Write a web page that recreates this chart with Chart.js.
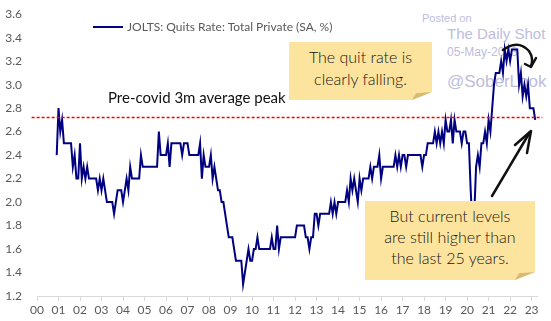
<!DOCTYPE html>
<html>
<head>
<meta charset="utf-8">
<script src="https://cdn.jsdelivr.net/npm/chart.js"></script>
<style>
  html, body { margin: 0; padding: 0; background: #fff; }
  #wrap { position: relative; width: 551px; height: 321px; overflow: hidden; }
  #chart { position: absolute; left: 0; top: 0; z-index: 1; }
  .wm { position: absolute; z-index: 0; color: #bdbddd; font-family: "Liberation Sans", Arial, sans-serif; white-space: nowrap; }
  .over { position: absolute; z-index: 2; white-space: nowrap; }
  .note { background: #fde49e; text-align: center; color: #151515; font-family: Lato, sans-serif; font-weight: 300;
          clip-path: polygon(0 0, 100% 0, 100% calc(100% - 8px), calc(100% - 20px) 100%, 0 100%); }
  .fold { background: #d8ba72; clip-path: polygon(0 100%, 100% 0, 20% 15%); }
</style>
</head>
<body>
<div id="wrap">
  <!-- watermark, sits behind the line -->
  <div class="wm" style="left:422px; top:12px; font-size:11px;">Posted on</div>
  <div class="wm" style="left:447px; top:25px; font-size:15px;">The Daily Shot</div>
  <div class="wm" style="left:447px; top:45px; font-size:12px;">05-May-2023</div>
  <div class="wm" style="left:447px; top:72px; font-size:17px;">@SoberLook</div>

  <canvas id="chart" width="551" height="321"></canvas>

  <!-- legend -->
  <div class="over" style="left:93px; top:26px; width:30px; height:2px; background:#000080;"></div>
  <div class="over" style="left:127px; top:19px; font:12px/16px Lato, sans-serif; color:#595959;">JOLTS: Quits Rate: Total Private (SA, %)</div>

  <div class="over" style="left:108px; top:87px; font:15px/20px Lato, sans-serif; color:#111;">Pre-covid 3m average peak</div>

  <div class="over note" style="left:289px; top:42px; width:143px; height:58px; font-size:16px; line-height:22px; padding-top:4px; box-sizing:border-box;">The quit rate is<br>clearly falling.</div>
  <div class="over fold" style="left:412px; top:92px; width:20px; height:8px;"></div>

  <div class="over note" style="left:365px; top:201px; width:170px; height:79px; font-size:16px; line-height:21px; padding-top:4px; box-sizing:border-box;">But current levels<br>are still higher than<br>the last 25 years.</div>
  <div class="over fold" style="left:515px; top:272px; width:20px; height:8px;"></div>

  <!-- hand drawn arrows -->
  <svg class="over" style="left:0; top:0;" width="551" height="321">
    <g fill="none" stroke="#111" stroke-width="2.5" stroke-linecap="round" stroke-linejoin="round">
      <path d="M 503 50 Q 518 39 529 51 Q 534 58 531 66"/>
      <path d="M 525 64 L 531 67 L 536 58"/>
      <path d="M 492 196 L 530 132"/>
      <path d="M 515 145 L 531 131 L 527 153"/>
    </g>
  </svg>
</div>

<script>
// подписи по оси X (годы)
var tickLabels = ['00','01','02','03','04','05','06','07','08','09','10','11',
                  '12','13','14','15','16','17','18','19','20','21','22','23'];

// первая точка ряда - декабрь 2000 (месяцев от янв 2000)
var firstMonth = 11;

// JOLTS quits rate, total private, SA, % - помесячно с дек 2000 по мар 2023
var quitsRate = [
  2.4,
  2.8, 2.6, 2.7, 2.5, 2.5, 2.5, 2.5, 2.5, 2.3, 2.4, 2.2, 2.2, // 2001
  2.5, 2.2, 2.3, 2.2, 2.3, 2.2, 2.2, 2.2, 2.2, 2.2, 2.1, 2.2, // 2002
  2.1, 2.2, 2.1, 2.0, 2.0, 2.0, 2.0, 1.9, 2.0, 2.1, 2.1, 2.1, // 2003
  2.0, 2.1, 2.2, 2.1, 2.3, 2.2, 2.2, 2.2, 2.2, 2.2, 2.4, 2.3, // 2004
  2.3, 2.3, 2.3, 2.3, 2.3, 2.3, 2.3, 2.3, 2.6, 2.4, 2.4, 2.4, // 2005
  2.4, 2.5, 2.3, 2.5, 2.5, 2.5, 2.5, 2.5, 2.5, 2.4, 2.5, 2.5, // 2006
  2.5, 2.4, 2.4, 2.4, 2.4, 2.4, 2.4, 2.5, 2.2, 2.4, 2.3, 2.3, // 2007
  2.3, 2.4, 2.2, 2.3, 2.2, 2.1, 2.1, 2.0, 2.0, 1.9, 1.8, 1.7, // 2008
  1.7, 1.7, 1.6, 1.5, 1.5, 1.5, 1.5, 1.3, 1.4, 1.5, 1.6, 1.5, // 2009
  1.5, 1.6, 1.6, 1.7, 1.6, 1.6, 1.6, 1.6, 1.6, 1.6, 1.6, 1.7, // 2010
  1.6, 1.6, 1.8, 1.6, 1.7, 1.7, 1.7, 1.7, 1.7, 1.7, 1.7, 1.7, // 2011
  1.7, 1.8, 1.8, 1.8, 1.8, 1.8, 1.7, 1.7, 1.6, 1.7, 1.7, 1.9, // 2012
  1.9, 1.8, 1.9, 1.9, 1.9, 1.9, 1.9, 1.9, 2.0, 1.9, 2.0, 1.9, // 2013
  2.0, 2.0, 2.0, 2.0, 2.0, 2.1, 2.0, 2.2, 2.1, 2.2, 2.1, 2.0, // 2014
  2.2, 2.1, 2.2, 2.2, 2.2, 2.2, 2.3, 2.2, 2.3, 2.3, 2.3, 2.4, // 2015
  2.2, 2.3, 2.3, 2.3, 2.3, 2.3, 2.3, 2.3, 2.4, 2.3, 2.4, 2.3, // 2016
  2.4, 2.4, 2.3, 2.4, 2.4, 2.4, 2.4, 2.4, 2.4, 2.4, 2.4, 2.3, // 2017
  2.4, 2.4, 2.5, 2.5, 2.5, 2.5, 2.6, 2.5, 2.6, 2.5, 2.6, 2.5, // 2018
  2.7, 2.6, 2.6, 2.7, 2.5, 2.7, 2.6, 2.6, 2.6, 2.5, 2.6, 2.6, // 2019
  2.5, 2.5, 2.1, 1.8, 1.9, 2.3, 2.4, 2.3, 2.5, 2.5, 2.6, 2.5, // 2020
  2.7, 2.6, 2.8, 3.0, 3.1, 3.1, 3.1, 3.2, 3.1, 3.3, 3.2, 3.3, // 2021
  3.2, 3.3, 3.3, 3.3, 3.3, 3.0, 3.1, 2.9, 3.0, 2.9, 3.0, 2.8, // 2022
  2.8, 2.8, 2.7                                               // 2023
];

// пиковое среднее за 3 мес до covid
var precovidPeak = 2.72;

var points = quitsRate.map(function (v, i) { return { x: firstMonth + i, y: v }; });

var config = {
  type: 'line',
  data: {
    datasets: [{
      label: 'JOLTS: Quits Rate: Total Private (SA, %)',
      data: points,
      borderColor: '#000080',
      borderWidth: 2,
      pointRadius: 0,
      tension: 0,
      order: 1
    }, {
      label: 'peak',
      data: [{ x: -3, y: precovidPeak }, { x: 282, y: precovidPeak }],
      borderColor: 'rgb(255, 0, 0)',
      backgroundColor: 'rgb(255, 0, 0)',
      borderWidth: 1.4,
      borderDash: [3, 2],
      pointRadius: 0,
      clip: false,
      order: 0
    }]
  },
  options: {
    responsive: false,
    animation: false,
    devicePixelRatio: 1,
    layout: { padding: { left: 0, right: 14, top: 12, bottom: 0 } },
    plugins: { legend: { display: false }, tooltip: { enabled: false } },
    scales: {
      x: {
        type: 'linear',
        min: 0,
        max: 279,
        afterBuildTicks: function (axis) {
          axis.ticks = tickLabels.map(function (t, i) { return { value: i * 12 }; });
        },
        afterFit: function (s) { s.height = 25; },
        ticks: {
          autoSkip: false,
          maxRotation: 0,
          padding: 2,
          color: '#595959',
          font: { family: 'Lato, sans-serif', size: 12 },
          callback: function (v) { return tickLabels[Math.round(v / 12)]; }
        },
        grid: { display: true, drawOnChartArea: false, drawTicks: true, tickLength: 5, color: '#d9d9d9' },
        border: { display: true, color: '#d9d9d9' }
      },
      y: {
        min: 1.2,
        max: 3.6,
        afterFit: function (s) { s.width = 37; },
        ticks: {
          stepSize: 0.2,
          padding: 7,
          color: '#595959',
          font: { family: 'Lato, sans-serif', size: 12 },
          callback: function (v) { return v.toFixed(1); }
        },
        grid: { display: false },
        border: { display: false }
      }
    }
  }
};

new Chart(document.getElementById('chart').getContext('2d'), config);
</script>
</body>
</html>
